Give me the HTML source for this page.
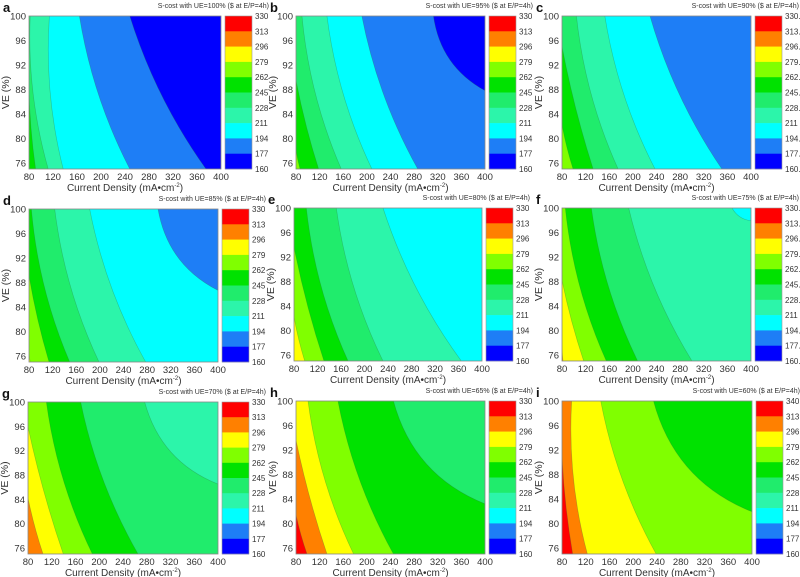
<!DOCTYPE html>
<html><head><meta charset="utf-8"><style>
html,body{margin:0;padding:0;background:#fff;width:800px;height:577px;overflow:hidden}
svg{display:block}
text{font-family:"Liberation Sans",Arial,sans-serif}
</style></head><body>
<svg id="s" width="800" height="577" xmlns="http://www.w3.org/2000/svg"></svg>
<script>
var C=["#0000FF","#1E7EF6","#00FFFF","#2CF5AA","#20EC6C","#00E200","#80FF00","#FFFF00","#FF8000","#FF0000"];
var P=[
 {L:29,R:221,T:16,B:169,t:"a",ue:"100%",base:5,b:[[4,[80,88],[91,75]],[3,[82,100],[112,75]],[2,[114,100],[137,75]],[1,[164,100],[248,75]],[0,[248,100],[375,75]]]},
 {L:296,R:485,T:16,B:169,t:"b",ue:"95%",base:6,b:[[5,[80,78.1],[86.8,75]],[4,[80,89.5],[118.3,75]],[3,[90.1,100],[156.6,75]],[2,[132.4,100],[208.5,75]],[1,[191.5,100],[286.2,75]],[0,[312.7,100],[400,87.8]]]},
 {L:562,R:751,T:16,B:169,t:"c",ue:"90%",base:6,dec:1,b:[[5,[80,82.2],[98.7,75]],[4,[80,95],[132.7,75]],[3,[104.4,100],[175,75]],[2,[152.5,100],[237.5,75]],[1,[229,100],[350.7,75]]]},
 {L:29,R:218,T:209,B:362,t:"d",ue:"85%",base:7,b:[[6,[80,76.6],[82,75]],[5,[80,89.1],[113.9,75]],[4,[84,100],[148.9,75]],[3,[123.5,100],[198.5,75]],[2,[182.7,100],[277.5,75]],[1,[298.4,100],[400,86.7]]]},
 {L:294,R:482,T:208,B:361,t:"e",ue:"80%",base:7,b:[[6,[80,82.2],[98.2,75]],[5,[80,93.6],[131,75]],[4,[101,100],[172,75]],[3,[152,100],[231.5,75]],[2,[231.5,100],[364.8,75]]]},
 {L:562,R:751,T:208,B:361,t:"f",ue:"75%",base:8,dec:1,b:[[7,[80,77.8],[81.7,75]],[6,[80,88.2],[116.7,75]],[5,[85.6,100],[155,75]],[4,[129.7,100],[208.1,75]],[3,[192.9,100],[300.1,75]],[2,[367.8,100],[400,97.9]]]},
 {L:28,R:218,T:402,B:554,t:"g",ue:"70%",base:8,b:[[7,[80,84.2],[105.3,75]],[6,[80,95.9],[139.4,75]],[5,[110.9,100],[188.4,75]],[4,[168.7,100],[265.3,75]],[3,[276.5,100],[400,86.5]]]},
 {L:296,R:485,T:401,B:554,t:"h",ue:"65%",base:9,b:[[8,[80,81.4],[98.6,75]],[7,[80,93.6],[132.4,75]],[6,[100.3,100],[177.5,75]],[5,[151,100],[245,75]],[4,[245,100],[400,83.2]]]},
 {L:562,R:752,T:401,B:554,t:"i",ue:"60%",base:9,dec:2,b:[[8,[80,90.9],[98,75]],[7,[96.3,100],[122.7,75]],[6,[145.2,100],[238.6,75]],[5,[234.1,100],[400,81.9]]]}
];
var labs=["330","313","296","279","262","245","228","211","194","177","160"];
var labs1=["330.0","313.4","296.8","279.9","262.5","245.4","228.6","211","194.4","177.7","160.0"];
var labs2=["340.0","313.4","296.4","279.6","262.5","245.4","228.4","211","194.4","177.7","160.0"];
var h="";
P.forEach(function(p){
 var W=p.R-p.L,H=p.B-p.T;
 function X(x){return p.L+(x-80)/320*W} function Y(y){return p.T+(100-y)/25*H}
 h+='<defs><clipPath id="cp'+p.t+'"><rect x="'+p.L+'" y="'+p.T+'" width="'+W+'" height="'+H+'"/></clipPath></defs>';
 h+='<g clip-path="url(#cp'+p.t+')"><rect x="'+p.L+'" y="'+p.T+'" width="'+W+'" height="'+H+'" fill="'+C[p.base]+'"/>';
 p.b.forEach(function(b){
  var px=X(b[1][0]),py=Y(b[1][1]),qx=X(b[2][0]),qy=Y(b[2][1]);
  var dx=qx-px,dy=qy-py;
  var k=(b[2][0]>=400)?0.25:(b[1][0]<=80?0.03:0.08);
  var cx=(px+qx)/2-k*dy,cy=(py+qy)/2+k*dx;
  var d='M'+px+','+py+' Q'+cx+','+cy+' '+qx+','+qy;
  if(b[2][1]<=75){d+=' L'+(p.R+1)+','+(p.B+1)+' L'+(p.R+1)+','+(p.T-1);}
  else{d+=' L'+(p.R+1)+','+(p.T-1);}
  if(b[1][0]<=80){d+=' L'+(p.L-1)+','+(p.T-1);}
  d+='Z';
  h+='<path d="'+d+'" fill="'+C[b[0]]+'" stroke="#2a6a3a" stroke-opacity="0.35" stroke-width="0.6"/>';
 });
 h+='</g><rect x="'+p.L+'" y="'+p.T+'" width="'+W+'" height="'+H+'" fill="none" stroke="#888" stroke-width="0.8"/>';
 for(var v=100;v>=76;v-=4){h+='<text x="'+(p.L-3)+'" y="'+(Y(v)+3.5)+'" font-size="9.5" fill="#333" text-anchor="end">'+v+'</text>';}
 for(var u=80;u<=400;u+=40){h+='<text x="'+X(u)+'" y="'+(p.B+11)+'" font-size="9.5" fill="#333" text-anchor="middle">'+u+'</text>';}
 h+='<text x="'+(p.L+W/2)+'" y="'+(p.B+22)+'" font-size="10" fill="#333" text-anchor="middle">Current Density (mA•cm<tspan font-size="6" dy="-4">-2</tspan><tspan dy="4">)</tspan></text>';
 var yc=p.T+H/2;
 h+='<text x="'+(p.L-20)+'" y="'+yc+'" font-size="10.5" fill="#333" text-anchor="middle" transform="rotate(-90 '+(p.L-20)+' '+yc+')">VE (%)</text>';
 h+='<text x="'+(p.L-26)+'" y="'+(p.T-4)+'" font-size="13" font-weight="bold" fill="#111">'+p.t+'</text>';
 var cbx=p.R+4,cw=27,bh=H/10;
 for(var i=0;i<10;i++){h+='<rect x="'+cbx+'" y="'+(p.T+i*bh)+'" width="'+cw+'" height="'+(bh+0.3)+'" fill="'+C[9-i]+'"/>';}
 h+='<rect x="'+cbx+'" y="'+p.T+'" width="'+cw+'" height="'+H+'" fill="none" stroke="#999" stroke-width="0.6"/>';
 var L=p.dec==1?labs1:(p.dec==2?labs2:labs);
 for(var j=0;j<=10;j++){h+='<text x="'+(cbx+cw+3)+'" y="'+(p.T+j*bh+3)+'" font-size="8" fill="#333">'+L[j]+'</text>';}
 h+='<text x="'+(cbx+cw+17)+'" y="'+(p.T-8)+'" font-size="7" fill="#333" text-anchor="end">S-cost with UE='+p.ue+' ($ at E/P=4h)</text>';
});
document.getElementById("s").innerHTML=h;
</script>
</body></html>
